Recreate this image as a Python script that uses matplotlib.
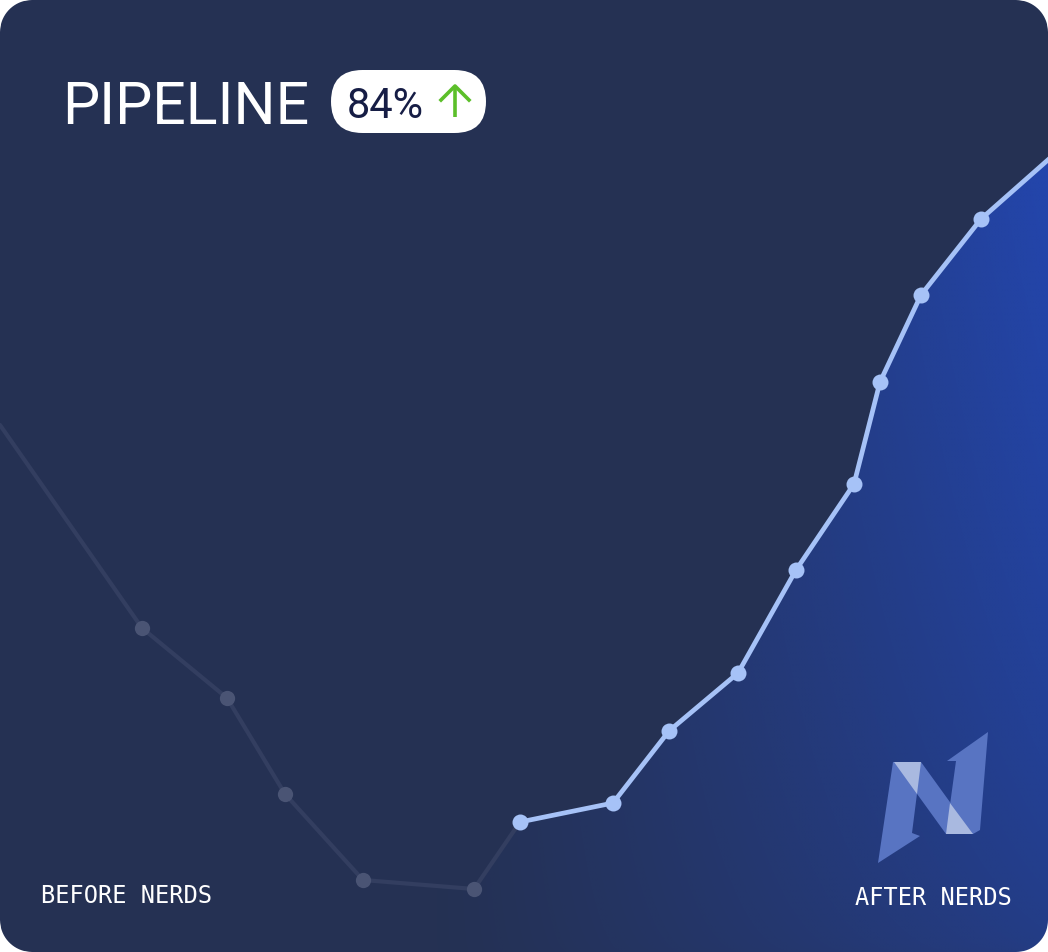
import numpy as np
import matplotlib.pyplot as plt
from matplotlib.patches import FancyBboxPatch, Polygon

# series (x position, height above the bottom edge)
before_x = [0, 142, 227, 285, 363, 474, 520]
before_y = [527, 324, 254, 158, 72, 63, 130]
after_x = [520, 613, 669, 738, 796, 854, 880, 921, 981, 1075]
after_y = [130, 149, 221, 279, 382, 468, 570, 657, 733, 816]

title = "PIPELINE"
badge = "84%"
left_label = "BEFORE NERDS"
right_label = "AFTER NERDS"

W, H = 1048, 952
bg = "#253153"
fill_blue = np.array([35, 71, 178]) / 255.0

fig = plt.figure(figsize=(W / 100, H / 100), dpi=100)
fig.patch.set_facecolor("white")
ax = fig.add_axes([0, 0, 1, 1])
ax.set_xlim(0, W)
ax.set_ylim(0, H)
ax.axis("off")

# card
card = FancyBboxPatch((0, 0), W, H, boxstyle="round,pad=0,rounding_size=32",
                      facecolor=bg, edgecolor="none", zorder=0)
ax.add_patch(card)

# gradient fill under the whole series
all_x = before_x + after_x[1:]
all_y = before_y + after_y[1:]
poly = np.column_stack([all_x + [all_x[-1], all_x[0]], all_y + [0, 0]])
clip = Polygon(poly, closed=True, transform=ax.transData, facecolor="none", edgecolor="none")
ax.add_patch(clip)

gx = np.linspace(0, W, 300)
gy = np.linspace(0, H, 300)
GX, GY = np.meshgrid(gx, gy)
tx = np.clip((GX - 430) / (W - 430), 0, 1) ** 1.1
ty = 0.5 + 0.5 * (GY / H) ** 0.6
img = np.zeros((300, 300, 4))
img[..., :3] = fill_blue
img[..., 3] = tx * ty
im = ax.imshow(img, extent=(0, W, 0, H), origin="lower", aspect="auto",
               interpolation="bilinear", zorder=1)
im.set_clip_path(clip)

# lines
ax.plot(before_x, before_y, color="#333e60", lw=3, zorder=2, solid_capstyle="round")
ax.plot(before_x[1:-1], before_y[1:-1], "o", color="#4a5474", ms=11, mec="none", zorder=3)
ax.plot(after_x, after_y, color="#a6c2f7", lw=3.4, zorder=4,
        marker="o", ms=11.5, mec="none", solid_joinstyle="round")

# logo
lc = "#5874c2"
light = "#a9b9e0"
left_stroke = [(893, 190), (921, 190), (912, 119), (920, 116), (878, 89)]
diag = [(894, 190), (921, 190), (973, 118), (946, 118)]
right_stroke = [(947, 191), (988, 220), (980, 122), (973, 118), (946, 118), (956, 191)]
for p in (left_stroke, diag, right_stroke):
    ax.add_patch(Polygon(p, closed=True, facecolor=lc, edgecolor="none", zorder=5))
ax.add_patch(Polygon([(894, 190), (921, 190), (917, 158)], closed=True,
                     facecolor=light, edgecolor="none", zorder=6))
ax.add_patch(Polygon([(946, 118), (973, 118), (950, 149)], closed=True,
                     facecolor=light, edgecolor="none", zorder=6))

# title and badge
ax.text(62, 828, title, color="white", fontsize=42.5, family="Roboto",
        va="baseline", ha="left", zorder=7)
pill = FancyBboxPatch((331, 819), 155, 63, boxstyle="round,pad=0,rounding_size=31.5",
                      facecolor="white", edgecolor="none", zorder=7)
ax.add_patch(pill)
ax.text(347, 834, badge, color="#161d45", fontsize=30, family="Roboto",
        va="baseline", ha="left", zorder=8)
green = "#5cbf2a"
ax.plot([455, 455], [835, 866], color=green, lw=2.6, zorder=8, solid_capstyle="butt")
ax.plot([441, 455, 469], [852, 866, 852], color=green, lw=2.6, zorder=8)

ax.text(41, 49, left_label, color="white", fontsize=17, family="DejaVu Sans Mono",
        va="baseline", ha="left", zorder=7)
ax.text(1012, 47, right_label, color="white", fontsize=17, family="DejaVu Sans Mono",
        va="baseline", ha="right", zorder=7)

# white corners outside the rounded card
r = 32
th = np.linspace(0, np.pi / 2, 20)
for cx, cy, sx, sy in [(0, 0, 1, 1), (W, 0, -1, 1), (0, H, 1, -1), (W, H, -1, -1)]:
    arc = [(cx + sx * (r - r * np.cos(t)), cy + sy * (r - r * np.sin(t))) for t in th]
    ax.add_patch(Polygon([(cx, cy)] + arc, closed=True, facecolor="white",
                         edgecolor="none", zorder=10))

fig.savefig("out.png", dpi=100, facecolor="white")
